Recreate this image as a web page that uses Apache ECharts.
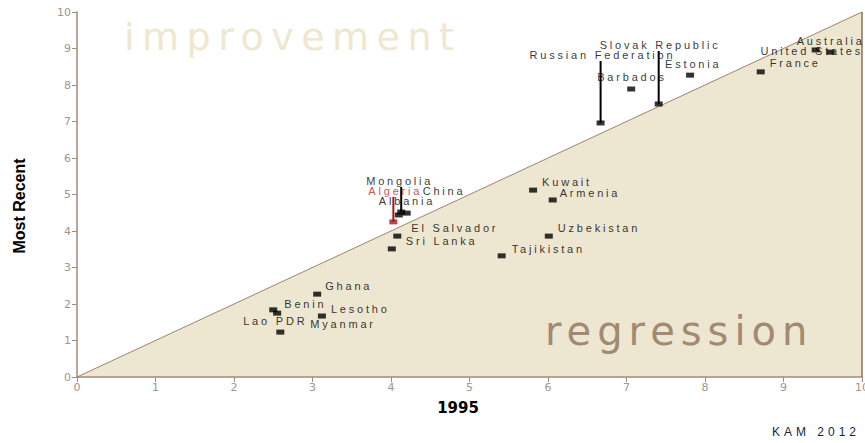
<!DOCTYPE html>
<html>
<head>
<meta charset="utf-8">
<script src="https://cdn.jsdelivr.net/npm/echarts@6/dist/echarts.min.js"></script>
<style>
  html, body { margin: 0; padding: 0; background: #fff; }
  #chart { width: 865px; height: 443px; }
  /* the old chart has widely tracked text */
  #chart text[style*="Arial"] { letter-spacing: 2.8px; }
  #chart text[style*="Helvetica"] { letter-spacing: 4px; }
  #chart text[style*="Verdana"] { letter-spacing: 7.5px; }
  #chart text[style*="Tahoma"] { letter-spacing: 6px; }
</style>
</head>
<body>
<div id="chart"></div>
<script>
// countries and their scores (1995 vs most recent)
var countries = ['Russian Federation', 'Slovak Republic', 'Barbados', 'Estonia', 'France', 'Australia', 'United States',
  'Mongolia', 'Algeria', 'China', 'Albania', 'El Salvador', 'Sri Lanka', 'Kuwait', 'Armenia', 'Uzbekistan',
  'Tajikistan', 'Ghana', 'Benin', 'Lao PDR', 'Lesotho', 'Myanmar']
var score1995 = [6.67, 7.41, 7.06, 7.81, 8.71, 9.41, 9.6,
  4.13, 4.03, 4.2, 4.1, 4.08, 4.01, 5.81, 6.06, 6.01,
  5.41, 3.06, 2.5, 2.55, 3.12, 2.59]
var scoreRecent = [6.96, 7.48, 7.89, 8.27, 8.36, 8.96, 8.9,
  4.52, 4.25, 4.49, 4.44, 3.86, 3.51, 5.12, 4.85, 3.86,
  3.32, 2.27, 1.84, 1.75, 1.67, 1.23]
var axisTicks = [0, 1, 2, 3, 4, 5, 6, 7, 8, 9, 10]
var diagonal = [[0, 0], [10, 10]]

// label placement (pixel shift from the default right-hand position)
var labelShift = [[-75, -68], [-63, -59], [-38, -12], [-29, -11], [5, -9], [-23, -9], [-74, -1],
  [-39, -31], [-29, -31], [12, -22], [-24, -14], [10, -8], [10, -8], [5, -8], [3, -7], [5, -8],
  [6, -7], [4, -8], [7, -6], [-38, 8], [5, -7], [26, -8]]
var withLeader = ['Russian Federation', 'Slovak Republic', 'Mongolia', 'Algeria']

var brown = '#a38a78'
var tickColor = '#a0968c'
var red = '#a81818'

var points = countries.map(function (name, i) {
  var item = { name: name, value: [score1995[i], scoreRecent[i]] }
  if (name === 'Algeria') {
    item.itemStyle = { color: red }
    item.label = { color: '#b82828' }
  }
  return item
})

var leaders = withLeader.map(function (name) {
  var i = countries.indexOf(name)
  return [score1995[i], scoreRecent[i], labelShift[i][1], name === 'Algeria' ? 1 : 0]
})

var myChart = echarts.init(document.getElementById('chart'), null, { renderer: 'svg' })
var option = {
  animation: false,
  grid: { left: 77, right: 3, top: 12, bottom: 66, containLabel: false, outerBoundsMode: 'none' },
  xAxis: {
    type: 'value', min: 0, max: 10, interval: 1,
    axisLine: { lineStyle: { color: brown, width: 1.5 } },
    axisTick: { length: 5, lineStyle: { color: brown } },
    axisLabel: { color: tickColor, fontSize: 11, fontFamily: 'DejaVu Sans', margin: 5 },
    splitLine: { show: false }
  },
  yAxis: {
    type: 'value', min: 0, max: 10, interval: 1,
    axisLine: { lineStyle: { color: brown, width: 1.5 } },
    axisTick: { length: 5, lineStyle: { color: brown } },
    axisLabel: { color: tickColor, fontSize: 11, fontFamily: 'DejaVu Sans', margin: 6 },
    splitLine: { show: false }
  },
  graphic: [
    { type: 'text', left: 124, top: 18, z: 1,
      style: { text: 'improvement', fontSize: 38, fontFamily: 'Verdana, DejaVu Sans', fill: '#efe7cf' } },
    { type: 'text', left: 545, top: 311, z: 1,
      style: { text: 'regression', fontSize: 40, fontFamily: 'Tahoma, DejaVu Sans', fill: '#a28a72' } },
    { type: 'text', x: 458, y: 408,
      style: { text: '1995', fontSize: 15, fontWeight: 'bold', fontFamily: 'DejaVu Sans', fill: '#000',
        align: 'center', verticalAlign: 'middle' } },
    { type: 'text', x: 19, y: 206, rotation: Math.PI / 2,
      style: { text: 'Most Recent', fontSize: 16, fontWeight: 'bold', fontFamily: 'Liberation Sans', fill: '#000',
        align: 'center', verticalAlign: 'middle' } },
    { type: 'text', left: 772, top: 426,
      style: { text: 'KAM 2012', fontSize: 12, fontFamily: 'Helvetica, Liberation Sans', fill: '#20224a' } }
  ],
  series: [
    {
      type: 'line',
      data: diagonal,
      symbol: 'none',
      z: 0,
      lineStyle: { color: '#a08270', width: 1 },
      areaStyle: { color: '#ede6d0', opacity: 1 },
      markLine: {
        silent: true, symbol: 'none', label: { show: false },
        lineStyle: { color: '#8a7060', type: 'solid', width: 1.5 },
        data: [{ xAxis: 10 }]
      }
    },
    {
      // leader lines from the label down to its point
      type: 'custom',
      data: leaders,
      z: 4,
      encode: { x: 0, y: 1 },
      renderItem: function (params, api) {
        var p = api.coord([api.value(0), api.value(1)])
        return {
          type: 'line',
          shape: { x1: p[0], y1: p[1], x2: p[0], y2: p[1] + api.value(2) + 6 },
          style: { stroke: api.value(3) ? red : '#000', lineWidth: 2 }
        }
      }
    },
    {
      type: 'scatter',
      data: points,
      symbol: 'rect',
      symbolSize: [8, 5],
      z: 5,
      itemStyle: { color: '#000' },
      label: {
        show: true,
        position: 'right',
        distance: 0,
        formatter: '{b}',
        fontFamily: 'Arial, Liberation Sans',
        fontSize: 11,
        color: '#000'
      },
      labelLayout: function (params) {
        var s = labelShift[params.dataIndex]
        return { dx: s[0], dy: s[1] }
      }
    }
  ]
}
myChart.setOption(option)
</script>
</body>
</html>
